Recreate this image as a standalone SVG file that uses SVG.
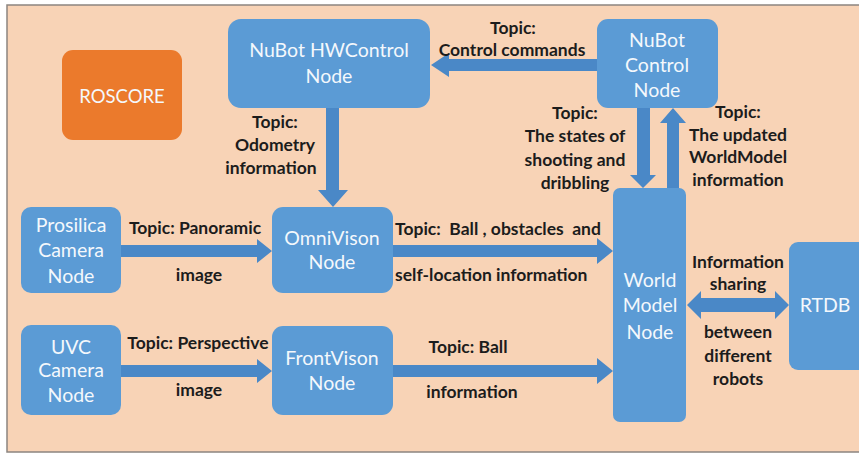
<svg xmlns="http://www.w3.org/2000/svg" width="859" height="455" viewBox="0 0 859 455">
<style>
.node{fill:#5B9BD5}
.core{fill:#EB7A2C}
.arr{fill:#4A88C7}
.nt{font-family:Lato,"Open Sans",sans-serif;font-size:19.5px;fill:#F4F8FC;text-anchor:middle}
.lb{font-family:Lato,"Liberation Sans",sans-serif;font-size:17.5px;font-weight:bold;fill:#1C1C1C;text-anchor:middle;white-space:pre}
.ls{text-anchor:start}
</style>
<rect x="0" y="0" width="859" height="455" fill="#ffffff"/>
<rect x="7" y="5" width="870" height="447" fill="#F8D3B6" stroke="#8C8580" stroke-width="1.5"/>

<g id="connectors">
<polygon class="arr" points="597,59 449,59 449,53 431,65 449,77 449,71 597,71"/>
<polygon class="arr" points="326,108 339,108 339,190 348,190 333,207 318,190 326,190"/>
<polygon class="arr" points="121,245 257,245 257,239 272,251 257,263 257,257 121,257"/>
<polygon class="arr" points="121,365 257,365 257,359 272,371 257,383 257,377 121,377"/>
<polygon class="arr" points="393,245 597,245 597,238 613,251 597,264 597,257 393,257"/>
<polygon class="arr" points="393,365 597,365 597,358 613,371 597,384 597,377 393,377"/>
<polygon class="arr" points="637,108 650,108 650,175 656,175 643,188 630,175 637,175"/>
<polygon class="arr" points="667,188 679,188 679,123 686,123 673,108 660,123 667,123"/>
<polygon class="arr" points="687,305 701,291 701,298 775,298 775,291 789,305 775,319 775,312 701,312 701,319"/>
</g>

<g id="roscore"><rect class="core" x="62" y="50" width="120" height="90" rx="11"/><text class="nt" x="122" y="103" style="font-size:18.5px">ROSCORE</text></g>
<g id="hwcontrol"><rect class="node" x="228" y="19" width="202" height="89" rx="13"/><text class="nt" x="329" y="57">NuBot HWControl</text><text class="nt" x="329" y="83">Node</text></g>
<g id="control"><rect class="node" x="597" y="19" width="121" height="89" rx="11"/><text class="nt" x="657" y="47">NuBot</text><text class="nt" x="657" y="72">Control</text><text class="nt" x="657" y="97">Node</text></g>
<g id="prosilica"><rect class="node" x="21" y="207" width="100" height="86" rx="10"/><text class="nt" x="71" y="232">Prosilica</text><text class="nt" x="71" y="257">Camera</text><text class="nt" x="71" y="283">Node</text></g>
<g id="omnivison"><rect class="node" x="272" y="207" width="121" height="86" rx="11"/><text class="nt" x="332" y="245">OmniVison</text><text class="nt" x="332" y="269">Node</text></g>
<g id="uvc"><rect class="node" x="21" y="325" width="100" height="90" rx="10"/><text class="nt" x="71" y="354">UVC</text><text class="nt" x="71" y="377">Camera</text><text class="nt" x="71" y="402">Node</text></g>
<g id="frontvison"><rect class="node" x="272" y="326" width="121" height="89" rx="11"/><text class="nt" x="332" y="365">FrontVison</text><text class="nt" x="332" y="390">Node</text></g>
<g id="worldmodel"><rect class="node" x="613" y="188" width="73" height="234" rx="7"/><text class="nt" x="650" y="287">World</text><text class="nt" x="650" y="312">Model</text><text class="nt" x="650" y="339">Node</text></g>
<g id="rtdb"><rect class="node" x="789" y="242" width="80" height="128" rx="9"/><text class="nt" x="825" y="312">RTDB</text></g>

<g id="labels">
<text class="lb" x="513" y="34">Topic:</text><text class="lb" x="512" y="56">Control commands</text>
<text class="lb" x="275" y="128">Topic:</text><text class="lb" x="275" y="151">Odometry</text><text class="lb" x="271" y="174">information</text>
<text class="lb" x="195" y="234">Topic: Panoramic</text><text class="lb" x="199" y="281">image</text>
<text class="lb" x="198" y="349">Topic: Perspective</text><text class="lb" x="199" y="396">image</text>
<text class="lb ls" x="395" y="235">Topic:  Ball , obstacles  and</text><text class="lb ls" x="395" y="281">self-location information</text>
<text class="lb" x="468" y="353">Topic: Ball</text><text class="lb" x="472" y="398">information</text>
<text class="lb" x="575" y="119">Topic:</text><text class="lb" x="575" y="142">The states of</text><text class="lb" x="575" y="166">shooting and</text><text class="lb" x="575" y="189">dribbling</text>
<text class="lb" x="738" y="118">Topic:</text><text class="lb" x="738" y="141">The updated</text><text class="lb" x="738" y="163">WorldModel</text><text class="lb" x="738" y="186">information</text>
<text class="lb" x="738" y="268">Information</text><text class="lb" x="738" y="290">sharing</text><text class="lb" x="738" y="338">between</text><text class="lb" x="738" y="362">different</text><text class="lb" x="738" y="385">robots</text>
</g>
</svg>
